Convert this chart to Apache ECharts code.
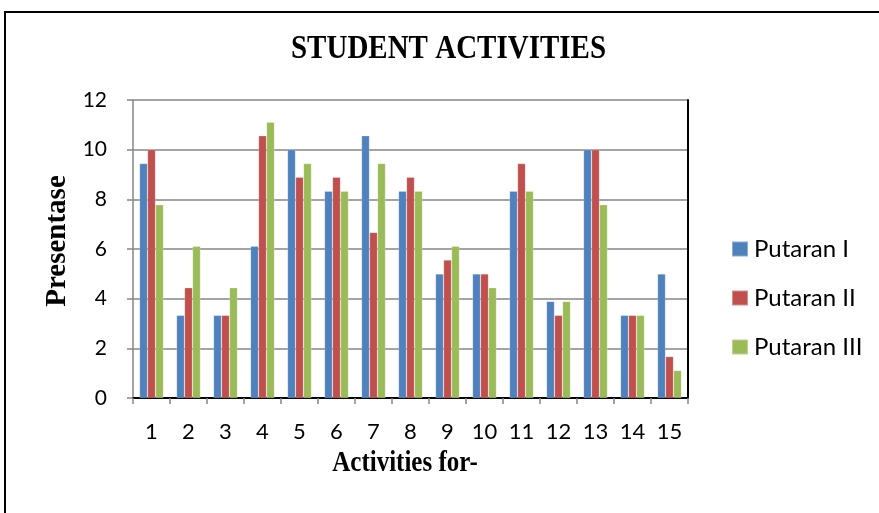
<!DOCTYPE html>
<html><head><meta charset="utf-8">
<script src="https://cdn.jsdelivr.net/npm/echarts@6/dist/echarts.min.js"></script>
<style>html,body{margin:0;padding:0;background:#fff}#c{width:879px;height:513px}</style>
</head><body><div id="c"></div>
<script>
const categories = ['1','2','3','4','5','6','7','8','9','10','11','12','13','14','15'];
const putaranI   = [9.44, 3.33, 3.33, 6.11, 10.00, 8.33, 10.56, 8.33, 5.00, 5.00, 8.33, 3.89, 10.00, 3.33, 5.00];
const putaranII  = [10.00, 4.44, 3.33, 10.56, 8.89, 8.89, 6.67, 8.89, 5.56, 5.00, 9.44, 3.33, 10.00, 3.33, 1.67];
const putaranIII = [7.78, 6.11, 4.44, 11.11, 9.44, 8.33, 9.44, 8.33, 6.11, 4.44, 8.33, 3.89, 7.78, 3.33, 1.11];
const seriesNames = ['Putaran I', 'Putaran II', 'Putaran III'];
const yTicks = {min: 0, max: 12, interval: 2};
const titleText = 'STUDENT ACTIVITIES';
const xName = 'Activities for-';
const yName = 'Presentase';

const chart = echarts.init(document.getElementById('c'), null, {renderer: 'canvas'});
const colors = ['#4F81BD', '#C0504D', '#9BBB59'];
const serif = '"Liberation Serif", "Times New Roman", serif';
const sans = 'Lato, "Open Sans", sans-serif';
const gray = '#868686';
function bar(name, data, i) {
  return {
    name, type: 'bar', data, barWidth: 8, barGap: '0%',
    itemStyle: {color: colors[i], borderColor: 'rgba(255,255,255,0.35)', borderWidth: 0.6},
    xAxisIndex: 0, yAxisIndex: 0
  };
}
function txt(text, x, y, size, opts) {
  return Object.assign({
    type: 'text', x, y, silent: true,
    style: {text, fontFamily: serif, fontWeight: 'bold', fontSize: size, fill: '#000', align: 'center', verticalAlign: 'middle'}
  }, opts || {});
}
chart.setOption({
  animation: false,
  color: colors,
  legend: {
    orient: 'vertical', left: 731, top: 237, itemGap: 25, padding: 0,
    itemWidth: 16, itemHeight: 15, icon: 'rect',
    textStyle: {fontFamily: sans, fontSize: 24, color: '#000', padding: [0,0,0,1]},
    data: seriesNames
  },
  grid: {left: 133, right: 191, top: 100, bottom: 115, containLabel: false},
  xAxis: [{
    type: 'category', data: categories, position: 'bottom',
    axisLine: {lineStyle: {color: gray, width: 1.5}},
    axisTick: {show: true, length: 6, alignWithLabel: false, lineStyle: {color: gray, width: 1.5}},
    axisLabel: {fontFamily: sans, fontSize: 22, color: '#000', margin: 23},
    splitLine: {show: false}
  }, {
    type: 'category', data: categories, position: 'top',
    axisLine: {lineStyle: {color: '#000', width: 2}},
    axisTick: {show: false}, axisLabel: {show: false}, splitLine: {show: false}
  }],
  yAxis: [{
    type: 'value', min: yTicks.min, max: yTicks.max, interval: yTicks.interval,
    axisLine: {show: true, lineStyle: {color: gray, width: 1.5}},
    axisTick: {show: true, length: 6, lineStyle: {color: gray, width: 1.5}},
    axisLabel: {fontFamily: sans, fontSize: 21, color: '#000', margin: 26},
    splitLine: {show: true, lineStyle: {color: gray, width: 1.5}}
  }, {
    type: 'value', min: yTicks.min, max: yTicks.max, interval: yTicks.interval, position: 'right',
    axisLine: {show: true, lineStyle: {color: '#000', width: 2}},
    axisTick: {show: false}, axisLabel: {show: false}, splitLine: {show: false}
  }],
  graphic: [{
    type: 'polyline', silent: true,
    shape: {points: [[5, 513], [5, 12], [879, 12]]},
    style: {stroke: '#000', lineWidth: 2, fill: null}
  },
  txt(titleText, 448.5, 49, 29, {scaleY: 1.15}),
  txt(xName, 405, 464, 25, {scaleY: 1.15}),
  txt(yName, 57.5, 241, 29, {rotation: Math.PI / 2})
  ],
  series: [bar(seriesNames[0], putaranI, 0), bar(seriesNames[1], putaranII, 1), bar(seriesNames[2], putaranIII, 2)]
});
</script></body></html>
